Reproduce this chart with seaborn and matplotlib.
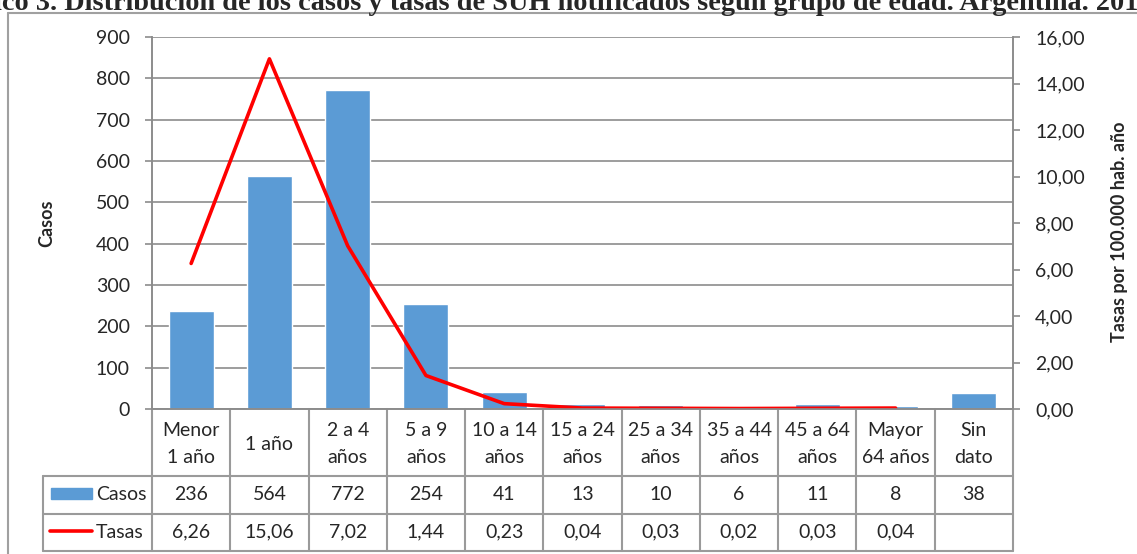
import numpy as np
import pandas as pd
import matplotlib
matplotlib.use('Agg')
import matplotlib.pyplot as plt
import matplotlib.transforms as mtransforms
from matplotlib.lines import Line2D
from matplotlib.patches import Rectangle
from matplotlib.ticker import FuncFormatter
import seaborn as sns

# Data
grupos = ['Menor\n1 año', '1 año', '2 a 4\naños', '5 a 9\naños', '10 a 14\naños', '15 a 24\naños',
          '25 a 34\naños', '35 a 44\naños', '45 a 64\naños', 'Mayor\n64 años', 'Sin\ndato']
casos = [236, 564, 772, 254, 41, 13, 10, 6, 11, 8, 38]
tasas = [6.26, 15.06, 7.02, 1.44, 0.23, 0.04, 0.03, 0.02, 0.03, 0.04]
casos_txt = [str(c) for c in casos]
tasas_txt = ['6,26', '15,06', '7,02', '1,44', '0,23', '0,04', '0,03', '0,02', '0,03', '0,04', '']

titulo = 'Gráfico 3. Distribución de los casos y tasas de SUH notificados según grupo de edad. Argentina. 2011'

df = pd.DataFrame({'grupo': grupos, 'casos': casos})
df_t = pd.DataFrame({'pos': np.arange(len(tasas)), 'tasas': tasas})

sns.set_style('white')
plt.rcParams['font.family'] = ['Lato', 'DejaVu Sans']

W, H = 1137, 554
fig = plt.figure(figsize=(W / 100, H / 100), dpi=100)
grid_c = '#8c8c8c'
blue = '#5B9BD5'
fs = 14

# plot area in pixels
x0, x1, ytop, ybot = 152, 1013, 37, 409
ax = fig.add_axes([x0 / W, 1 - ybot / H, (x1 - x0) / W, (ybot - ytop) / H])

sns.barplot(data=df, x='grupo', y='casos', ax=ax, color=blue, width=0.575, saturation=1)
ax.set_ylim(0, 900)
ax.set_xlim(-0.5, len(grupos) - 0.5)
ax.set_yticks(range(0, 901, 100))
ax.yaxis.grid(True, color=grid_c, lw=1.2)
ax.set_axisbelow(True)
ax.set_xticks([])
ax.set_xlabel('')
ax.set_ylabel('')
ax.tick_params(axis='y', length=5, width=1.2, color=grid_c, labelsize=fs, pad=11)

ax2 = ax.twinx()
sns.lineplot(data=df_t, x='pos', y='tasas', ax=ax2, color='#ff0000', lw=2.6)
ax2.set_ylim(0, 16)
ax2.set_yticks(range(0, 17, 2))
ax2.yaxis.set_major_formatter(FuncFormatter(lambda v, p: f'{v:.2f}'.replace('.', ',')))
ax2.set_xlabel('')
ax2.set_ylabel('')
ax2.tick_params(axis='y', length=5, width=1.2, color=grid_c, labelsize=fs, pad=11)

for a in (ax, ax2):
    a.spines['top'].set_visible(False)
    for s in ('left', 'right', 'bottom'):
        a.spines[s].set_color(grid_c)
        a.spines[s].set_linewidth(1.2)

fig.text(47 / W, 1 - 223 / H, 'Casos', rotation=90, ha='center', va='center',
         fontsize=13, fontweight='bold')
fig.text(1119 / W, 1 - 232 / H, 'Tasas por 100.000 hab. año', rotation=90, ha='center',
         va='center', fontsize=13, fontweight='bold')

# data table under the axis
trans = mtransforms.blended_transform_factory(ax.transData, ax.transAxes)
ph = ybot - ytop
cw = (x1 - x0) / len(grupos)


def fy(py):
    return (ybot - py) / ph


r0, r1, r2, r3 = fy(409), fy(476), fy(514), fy(551)
xl = -0.5 - (x0 - 43) / cw
n = len(grupos)
tc = '#9a9a9a'


def hline(xa, xb, y):
    ax.add_line(Line2D([xa, xb], [y, y], transform=trans, color=tc, lw=1.5, clip_on=False))


def vline(x, ya, yb):
    ax.add_line(Line2D([x, x], [ya, yb], transform=trans, color=tc, lw=1.5, clip_on=False))


for k in range(n + 1):
    vline(k - 0.5, r0, r3)
vline(xl, r1, r3)
hline(xl, n - 0.5, r1)
hline(xl, n - 0.5, r2)
hline(xl, n - 0.5, r3)

for i, g in enumerate(grupos):
    ax.text(i, fy(444), g, transform=trans, ha='center', va='center', fontsize=fs,
            linespacing=1.75)
    ax.text(i, fy(495), casos_txt[i], transform=trans, ha='center', va='center', fontsize=fs)
    ax.text(i, fy(532), tasas_txt[i], transform=trans, ha='center', va='center', fontsize=fs)

# legend keys inside the table
fig.add_artist(Rectangle((51 / W, 1 - 499 / H), 41 / W, 11 / H, color=blue, transform=fig.transFigure))
fig.add_artist(Line2D([50 / W, 92 / W], [1 - 531 / H, 1 - 531 / H], color='#ff0000', lw=2.6,
                      transform=fig.transFigure))
fig.text(96 / W, 1 - 495 / H, 'Casos', ha='left', va='center', fontsize=fs)
fig.text(96 / W, 1 - 532 / H, 'Tasas', ha='left', va='center', fontsize=fs)

# outer chart frame
fc = '#a0a0a0'
fig.add_artist(Line2D([8 / W, 1.0], [1 - 13 / H, 1 - 13 / H], color=fc, lw=1.5, transform=fig.transFigure))
fig.add_artist(Line2D([8 / W, 8 / W], [0, 1 - 13 / H], color=fc, lw=1.5, transform=fig.transFigure))

# title, clipped at the edges as in the original: "Gráfi" falls off the left side
tfont = dict(fontsize=20.3, fontweight='bold', family=['Liberation Serif', 'DejaVu Serif'])
renderer = fig.canvas.get_renderer()
probe = fig.text(0, 0, 'Gráfi', **tfont)
pre_w = probe.get_window_extent(renderer).width
probe.remove()
fig.text(-(pre_w - 2) / W, 1 - 10 / H, titulo, ha='left', va='baseline', **tfont)

fig.savefig('out.png', dpi=100)
